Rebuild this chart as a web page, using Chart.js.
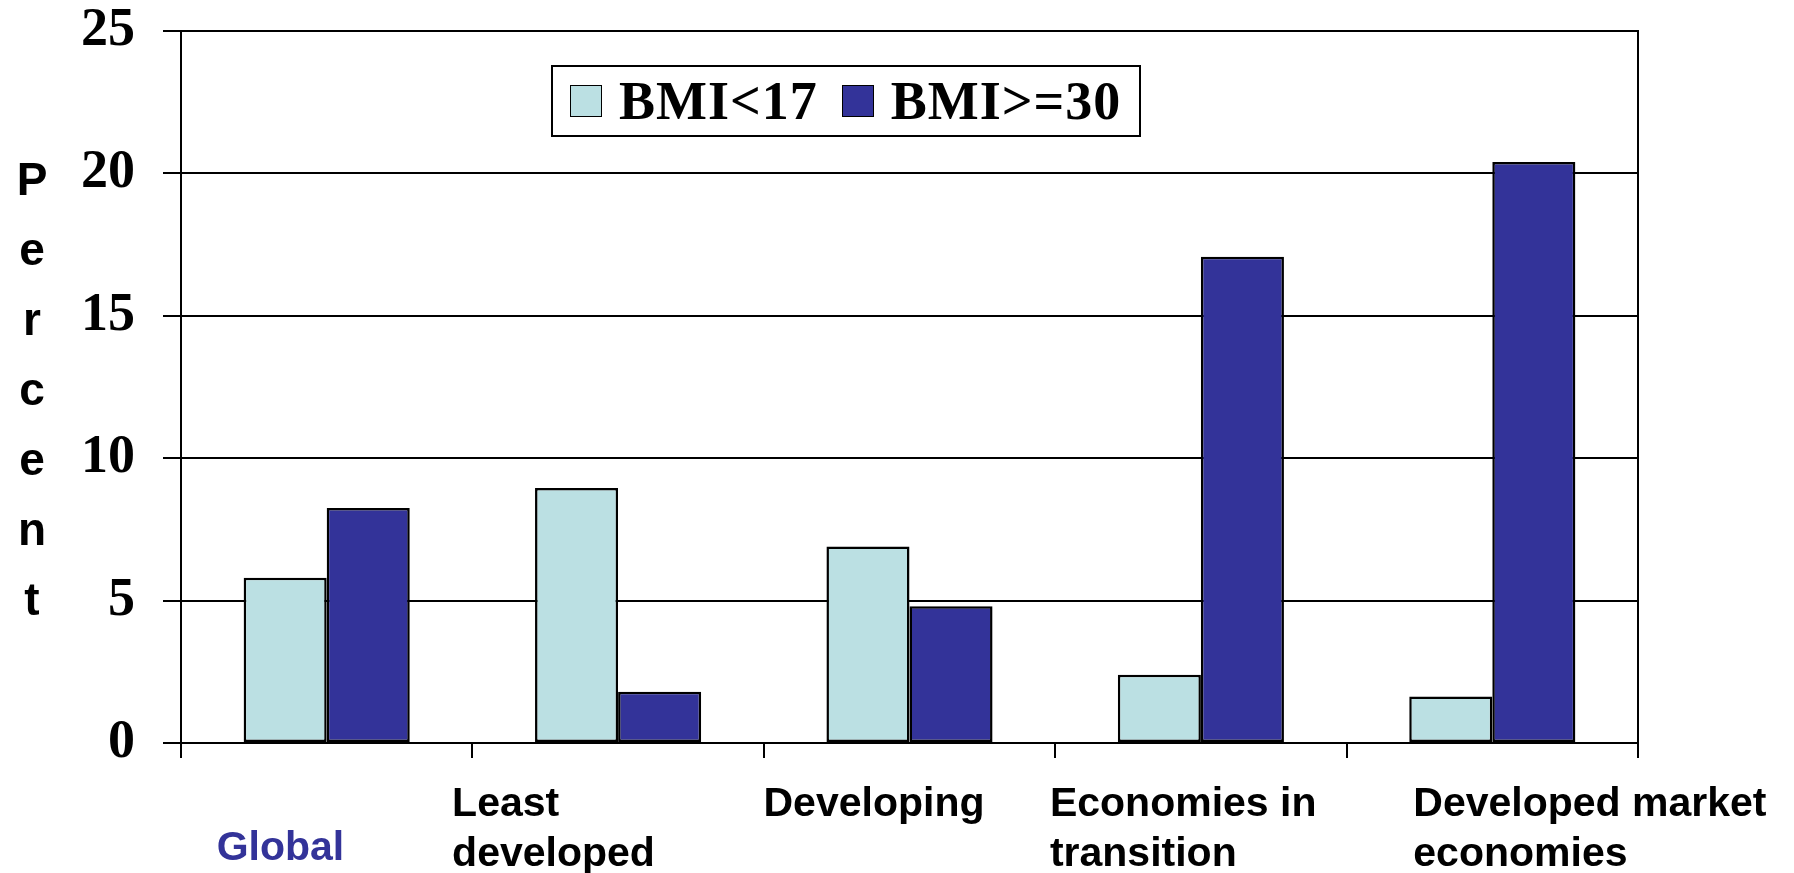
<!DOCTYPE html>
<html>
<head>
<meta charset="utf-8">
<script src="https://cdn.jsdelivr.net/npm/chart.js@4.4.1/dist/chart.umd.min.js"></script>
<style>
  html, body { margin: 0; padding: 0; background: #fff; }
  #wrap { position: relative; width: 1794px; height: 873px; overflow: hidden; }
  #chart { position: absolute; left: 0; top: 0; }
  #ylabel {
    position: absolute; left: 12px; top: 144px; width: 40px;
    font: bold 46px "Liberation Sans", Arial, sans-serif;
    line-height: 70px; text-align: center; word-break: break-all;
  }
  #legend {
    position: absolute; left: 551px; top: 65px; width: 590px; height: 72px;
    box-sizing: border-box; border: 2px solid #000; background: #fff;
    display: flex; align-items: center; padding-left: 17px;
    font: bold 54px "Liberation Serif", "Times New Roman", serif; line-height: 60px;
    letter-spacing: 1px;
  }
  #legend .item { display: flex; align-items: center; }
  #legend .item + .item { margin-left: 24px; }
  #legend .swatch {
    width: 32px; height: 32px; box-sizing: border-box;
    border: 1.5px solid #000; margin-right: 17px;
  }
</style>
</head>
<body>
<div id="wrap">
  <canvas id="chart" width="1794" height="873"></canvas>
  <div id="ylabel">Percent</div>
  <div id="legend"></div>
</div>
<script>
// categories (multi-line labels as on the slide)
const categories = [
  ["Global"],
  ["Least", "developed"],
  ["Developing"],
  ["Economies in", "transition"],
  ["Developed market", "economies"],
];
const seriesNames = ["BMI<17", "BMI>=30"];
const bmiUnder17 = [5.8, 8.95, 6.9, 2.4, 1.63];
const bmiOver30 = [8.25, 1.8, 4.8, 17.07, 20.4];
const yTicks = [0, 5, 10, 15, 20, 25];

const colors = ["#bbe0e3", "#333399"];

// the slide's category labels sit in their own text boxes
const xLabelShift = [-110, -166, -146, -151, -79];
const xLabelDy = [102, 58, 58, 58, 58];
const xLabelColor = ["#333399", "#000", "#000", "#000", "#000"];

const categoryLabels = {
  id: "categoryLabels",
  afterDraw(chart) {
    const xs = chart.scales.x;
    const ctx = chart.ctx;
    ctx.save();
    ctx.font = 'bold 41px "Liberation Sans", Arial, sans-serif';
    ctx.textAlign = "left";
    ctx.textBaseline = "alphabetic";
    chart.data.labels.forEach((lines, i) => {
      const x = xs.getPixelForTick(i) + xLabelShift[i];
      ctx.fillStyle = xLabelColor[i];
      lines.forEach((line, j) => {
        ctx.fillText(line, x, xs.bottom + xLabelDy[i] + j * 50);
      });
    });
    ctx.restore();
  },
};

const serifBold = { family: '"Liberation Serif", "Times New Roman", serif', size: 54, weight: "bold" };

const chart = new Chart(document.getElementById("chart"), {
  type: "bar",
  data: {
    labels: categories,
    datasets: [
      { label: seriesNames[0], data: bmiUnder17, backgroundColor: colors[0] },
      { label: seriesNames[1], data: bmiOver30, backgroundColor: colors[1] },
    ].map((d) => ({ ...d, borderColor: "#000", borderWidth: 2.5, borderSkipped: false })),
  },
  options: {
    responsive: false,
    animation: false,
    devicePixelRatio: 1,
    categoryPercentage: 0.57,
    barPercentage: 1,
    layout: { padding: { left: 0, right: 156, top: 31, bottom: 115 } },
    plugins: {
      legend: { display: false },
      tooltip: { enabled: false },
    },
    scales: {
      x: {
        ticks: { display: false },
        grid: {
          offset: true,
          drawOnChartArea: false,
          tickLength: 15,
          color: "#000",
          lineWidth: 2,
        },
        border: { display: true, color: "#000", width: 2 },
        afterFit(scale) { scale.height = 15; },
      },
      y: {
        min: yTicks[0],
        max: yTicks[yTicks.length - 1],
        ticks: {
          stepSize: yTicks[1] - yTicks[0],
          color: "#000",
          font: serifBold,
          padding: 28,
        },
        grid: { color: "#000", lineWidth: 2, tickLength: 18 },
        border: { display: true, color: "#000", width: 2 },
        afterFit(scale) {
          scale.width = 181;
          scale.paddingTop = 0;
          scale.paddingBottom = 0;
        },
      },
      yRight: {
        position: "right",
        display: true,
        min: 0,
        max: 25,
        ticks: { display: false },
        grid: { display: false, drawTicks: false },
        border: { display: true, color: "#000", width: 2 },
        afterFit(scale) {
          scale.width = 0;
          scale.paddingTop = 0;
          scale.paddingBottom = 0;
        },
      },
    },
  },
  plugins: [categoryLabels],
});

// legend box inside the plot, built from the datasets
const legendEl = document.getElementById("legend");
chart.data.datasets.forEach((ds) => {
  const item = document.createElement("div");
  item.className = "item";
  const sw = document.createElement("span");
  sw.className = "swatch";
  sw.style.background = ds.backgroundColor;
  const txt = document.createElement("span");
  txt.textContent = ds.label;
  item.appendChild(sw);
  item.appendChild(txt);
  legendEl.appendChild(item);
});
</script>
</body>
</html>
